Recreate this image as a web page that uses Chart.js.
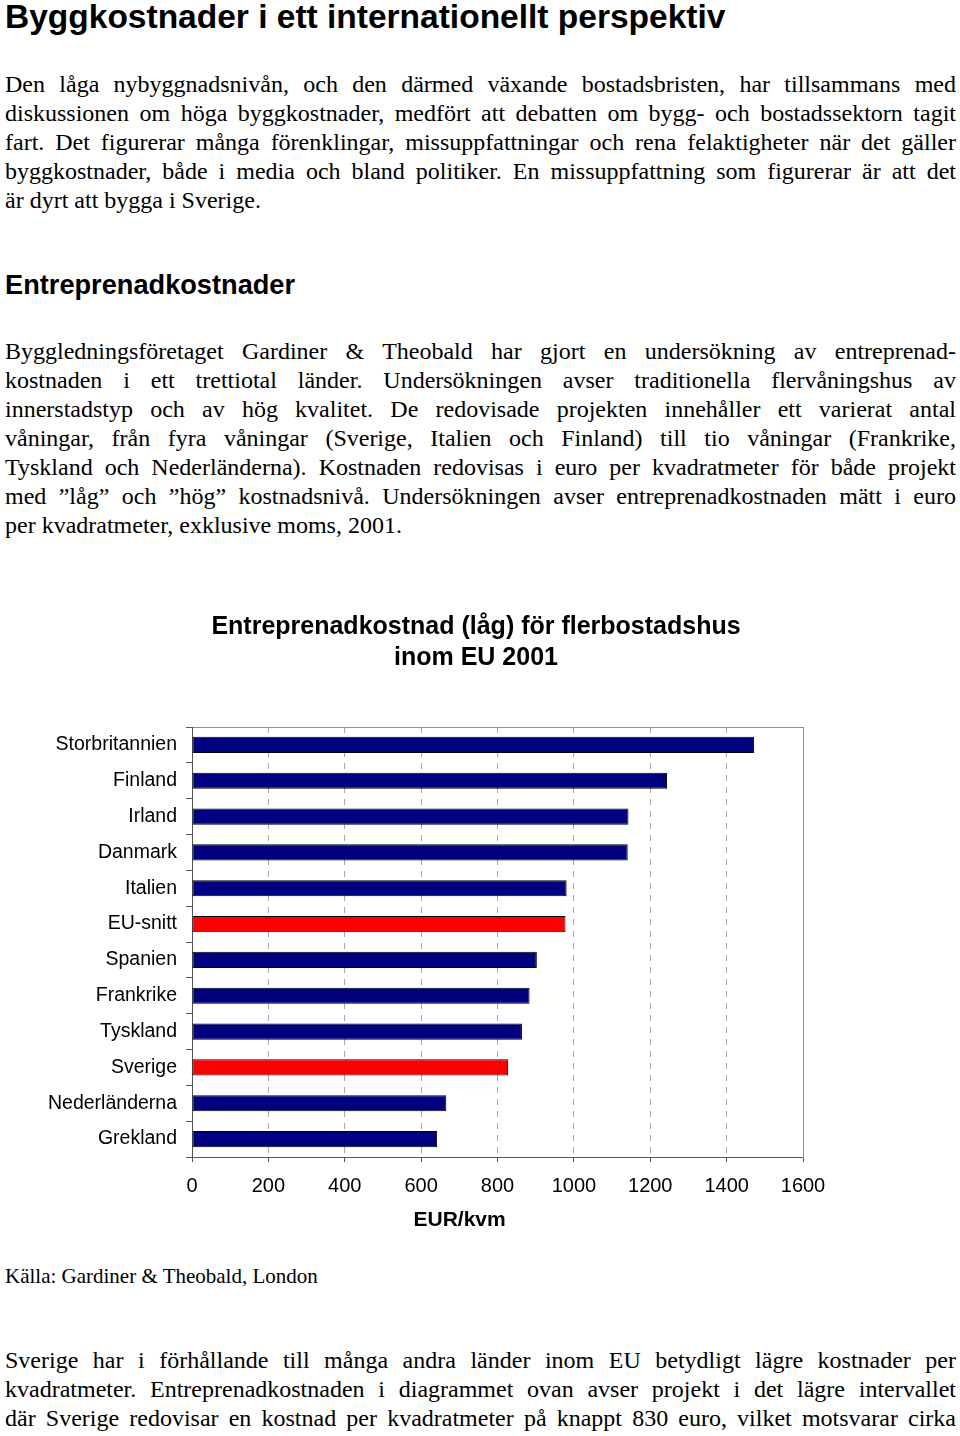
<!DOCTYPE html>
<html lang="sv">
<head>
<meta charset="utf-8">
<title>Byggkostnader i ett internationellt perspektiv</title>
<script src="https://cdn.jsdelivr.net/npm/chart.js@4/dist/chart.umd.min.js"></script>
<style>
body{margin:0;background:#fff;color:#000;width:960px;height:1436px;position:relative;overflow:hidden;}
.h1{position:absolute;left:5px;top:0;font:bold 33.5px/34px "Liberation Sans",Arial,sans-serif;white-space:nowrap;}
.h2{position:absolute;left:5px;top:269px;font:bold 27.2px/32px "Liberation Sans",Arial,sans-serif;white-space:nowrap;}
.txt{position:absolute;left:5px;width:951px;font:24px/29px "Liberation Serif","Times New Roman",serif;}
.txt div{white-space:nowrap;text-align:justify;text-align-last:justify;}
.txt div.last{text-align:left;text-align-last:left;}
.src{position:absolute;left:5px;top:1264px;font:21px/24px "Liberation Serif","Times New Roman",serif;white-space:nowrap;}
#wrap{position:absolute;left:0;top:590px;width:952px;height:650px;}
</style>
</head>
<body>

<div class="h1">Byggkostnader i ett internationellt perspektiv</div>

<div class="txt" style="top:70px">
<div>Den låga nybyggnadsnivån, och den därmed växande bostadsbristen, har tillsammans med</div>
<div>diskussionen om höga byggkostnader, medfört att debatten om bygg- och bostadssektorn tagit</div>
<div>fart. Det figurerar många förenklingar, missuppfattningar och rena felaktigheter när det gäller</div>
<div>byggkostnader, både i media och bland politiker. En missuppfattning som figurerar är att det</div>
<div class="last">är dyrt att bygga i Sverige.</div>
</div>

<div class="h2">Entreprenadkostnader</div>

<div class="txt" style="top:337px">
<div>Byggledningsföretaget Gardiner &amp; Theobald har gjort en undersökning av entreprenad-</div>
<div>kostnaden i ett trettiotal länder. Undersökningen avser traditionella flervåningshus av</div>
<div>innerstadstyp och av hög kvalitet. De redovisade projekten innehåller ett varierat antal</div>
<div>våningar, från fyra våningar (Sverige, Italien och Finland) till tio våningar (Frankrike,</div>
<div>Tyskland och Nederländerna). Kostnaden redovisas i euro per kvadratmeter för både projekt</div>
<div>med ”låg” och ”hög” kostnadsnivå. Undersökningen avser entreprenadkostnaden mätt i euro</div>
<div class="last">per kvadratmeter, exklusive moms, 2001.</div>
</div>

<div id="wrap"><canvas id="graf"></canvas></div>

<div class="src">Källa: Gardiner &amp; Theobald, London</div>

<div class="txt" style="top:1346px">
<div>Sverige har i förhållande till många andra länder inom EU betydligt lägre kostnader per</div>
<div>kvadratmeter. Entreprenadkostnaden i diagrammet ovan avser projekt i det lägre intervallet</div>
<div>där Sverige redovisar en kostnad per kvadratmeter på knappt 830 euro, vilket motsvarar cirka</div>
</div>

<script>
// data, EUR/kvm (låg kostnadsnivå), 2001
const lander = ["Storbritannien","Finland","Irland","Danmark","Italien","EU-snitt","Spanien","Frankrike","Tyskland","Sverige","Nederländerna","Grekland"];
const kostnad = [1472,1244,1143,1141,981,978,903,884,864,828,666,642];
const markerade = ["EU-snitt","Sverige"];
const xMin = 0;
const xMax = 1600;
const xSteg = 200;

const sans = "'Liberation Sans', Arial, sans-serif";
const farger = lander.map(l => markerade.includes(l) ? "#ff0000" : "#000080");

// axeltiteln står lite till vänster om mitten i originalet
const axelTitel = "EUR/kvm" + "\u00a0".repeat(13);

new Chart(document.getElementById("graf"),{
type:"bar",
data:{
labels:lander,
datasets:[{
data:kostnad,
backgroundColor:farger,
borderColor:"#000000",
borderWidth:1,
borderSkipped:false,
barPercentage:0.45,
categoryPercentage:1
}]
},
options:{
indexAxis:"y",
responsive:true,
maintainAspectRatio:false,
animation:false,
layout:{padding:0},
plugins:{
legend:{display:false},
tooltip:{enabled:false},
title:{
display:true,
text:["Entreprenadkostnad (låg) för flerbostadshus","inom EU 2001"],
color:"#000",
font:{family:sans,size:25,weight:"bold",lineHeight:1.24},
padding:{top:21.5,bottom:53.5}
}
},
scales:{
x:{
type:"linear",
position:"bottom",
min:xMin,
max:xMax,
afterFit:s=>{s.height=83;},
ticks:{stepSize:xSteg,color:"#000",font:{family:sans,size:20},padding:12,maxRotation:0,callback:v=>String(v)},
grid:{color:"#a8a8a8",lineWidth:1,drawTicks:true,tickLength:5,tickColor:"#555",tickBorderDash:[]},
border:{display:true,color:"#555",width:1,dash:[6,6]},
title:{display:true,text:axelTitel,color:"#000",font:{family:sans,size:21,weight:"bold"},padding:{top:4,bottom:7}}
},
x2:{
type:"linear",
position:"top",
min:xMin,
max:xMax,
afterFit:s=>{s.height=0;},
ticks:{display:false},
grid:{display:false},
border:{display:true,color:"#909090",width:1}
},
y:{
position:"left",
afterFit:s=>{s.width=192;},
ticks:{color:"#000",font:{family:sans,size:19.5},padding:9},
grid:{display:true,drawOnChartArea:false,drawTicks:true,tickLength:6,offset:true,color:"#555",tickColor:"#555"},
border:{display:true,color:"#555",width:1}
},
y2:{
type:"linear",
position:"right",
afterFit:s=>{s.width=149;},
ticks:{display:false},
grid:{display:false},
border:{display:true,color:"#909090",width:1}
}
}
}
});
</script>
</body>
</html>
